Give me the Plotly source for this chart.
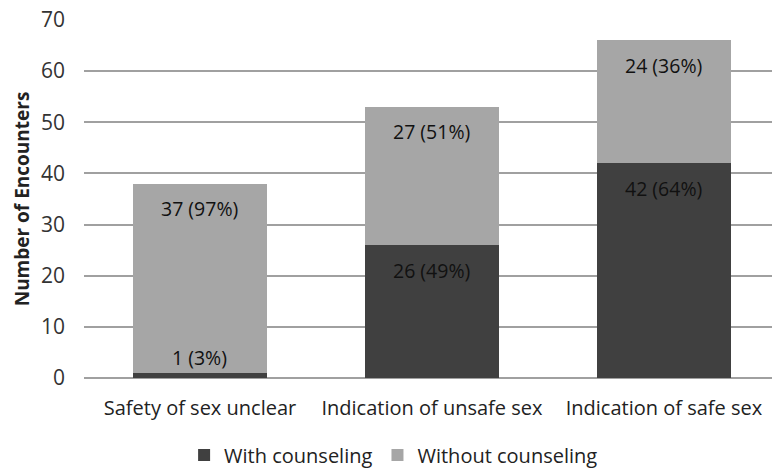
import plotly.graph_objects as go

categories = ["Safety of sex unclear", "Indication of unsafe sex", "Indication of safe sex"]
with_counseling = [1, 26, 42]
without_counseling = [37, 27, 24]
with_pct = [3, 49, 64]
without_pct = [97, 51, 36]

FONT = "'Open Sans', 'Noto Sans', sans-serif"
DARK = "#404040"
LIGHT = "#a6a6a6"

fig = go.Figure()
fig.add_trace(go.Bar(x=categories, y=with_counseling, name="With counseling",
                     marker=dict(color=DARK, line=dict(width=0)), width=0.575))
fig.add_trace(go.Bar(x=categories, y=without_counseling, name="Without counseling",
                     marker=dict(color=LIGHT, line=dict(width=0)), width=0.575))

annotations = []
for i, c in enumerate(categories):
    top1 = with_counseling[i]
    top2 = with_counseling[i] + without_counseling[i]
    for top, val, pct, seg in [(top1, with_counseling[i], with_pct[i], with_counseling[i]),
                               (top2, without_counseling[i], without_pct[i], without_counseling[i])]:
        shift = -25 if seg >= 5 else 15
        annotations.append(dict(x=c, y=top, xref="x", yref="y", text=f"{val} ({pct}%)",
                                showarrow=False, yanchor="middle", yshift=shift,
                                font=dict(family=FONT, size=19.5, color="#111111")))

fig.update_layout(
    barmode="stack",
    width=772, height=470,
    margin=dict(l=84, r=0, t=20, b=92, autoexpand=False),
    plot_bgcolor="white", paper_bgcolor="white",
    font=dict(family=FONT, size=19, color="#333333"),
    bargap=0.425,
    annotations=annotations,
    legend=dict(orientation="h", x=0.45, xref="paper", xanchor="center", y=-0.215, yanchor="middle",
                font=dict(family=FONT, size=20, color="#222222"), traceorder="normal",
                itemwidth=30),
    showlegend=True,
)
fig.update_xaxes(range=[-0.5, 2.466], showgrid=False, showline=False, zeroline=False,
                 ticks="", ticklabelstandoff=16,
                 tickfont=dict(family=FONT, size=20, color="#222222"))
fig.update_yaxes(range=[0, 70], dtick=10, showgrid=True, gridcolor="#a0a0a0", gridwidth=1.5,
                 zeroline=True, zerolinecolor="#a0a0a0", zerolinewidth=1.5,
                 ticks="", ticklabelstandoff=18,
                 tickfont=dict(family=FONT, size=21, color="#333333"),
                 title=dict(text="<b>Number of Encounters</b>", standoff=6,
                            font=dict(family=FONT, size=19, color="#222222")))

fig.write_html("out.html")
